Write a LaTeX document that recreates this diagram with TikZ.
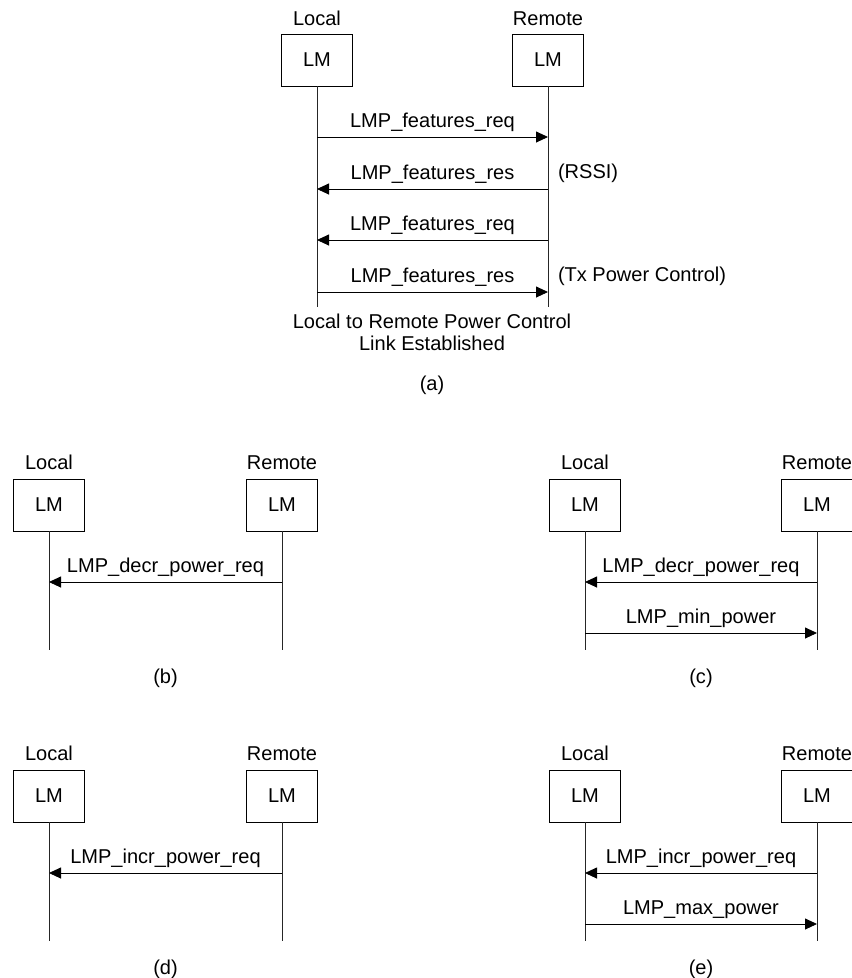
\documentclass[tikz,border=0pt]{standalone}
\usepackage{fontspec}
\setmainfont{Liberation Sans}
\usetikzlibrary{positioning, calc, arrows.meta}

\begin{document}
\begin{tikzpicture}[
  every node/.append style={inner sep=0pt, outer sep=0pt, font=\fontsize{11.4}{12.5}\selectfont},
  lm/.style={draw, line width=0.55pt, minimum width=1.42cm, minimum height=1.04cm, align=center},
  who/.style={anchor=base},
  life/.style={line width=0.5pt, black!85},
  msg/.style={-{Triangle[length=0.24cm, width=0.22cm]}, line width=0.5pt},
  lbl/.style={midway, anchor=base, yshift=0.19cm},
  note/.style={anchor=base west},
  captxt/.style={anchor=base},
]
\useasboundingbox (0,0) rectangle (17.02,-19.56);

%% ─── (a): features exchange, lifelines at x=6.34 / 10.96 ────────────────────
\node[who] (ta1) at (6.34,  -0.50) {Local};
\node[who] (ta2) at (10.96, -0.50) {Remote};
\node[lm]  (aL)  at (6.34,  -1.20) {LM};
\node[lm]  (aR)  at (10.96, -1.20) {LM};
\draw[life] (aL.south) -- ([yshift=-4.42cm]aL.south);
\draw[life] (aR.south) -- ([yshift=-4.42cm]aR.south);
\draw[msg] ([yshift=-1.02cm]aL.south) -- ([yshift=-1.02cm]aR.south) node[lbl] {LMP\_features\_req};
\draw[msg] ([yshift=-2.06cm]aR.south) -- ([yshift=-2.06cm]aL.south) node[lbl] {LMP\_features\_res};
\draw[msg] ([yshift=-3.08cm]aR.south) -- ([yshift=-3.08cm]aL.south) node[lbl] {LMP\_features\_req};
\draw[msg] ([yshift=-4.12cm]aL.south) -- ([yshift=-4.12cm]aR.south) node[lbl] {LMP\_features\_res};
\node[note] (rssi) at (11.16, -3.56) {(RSSI)};
\node[note] (txpc) at (11.16, -5.62) {(Tx Power Control)};
\node[captxt] (est1) at (8.64, -6.56) {Local to Remote Power Control};
\node[captxt] (est2) at (8.64, -7.00) {Link Established};
\node[captxt] (capa) at (8.64, -7.80) {(a)};

%% ─── (b): decrease request, lifelines at x=0.98 / 5.64 ──────────────────────
\node[who] (tb1) at (0.98, -9.38) {Local};
\node[who] (tb2) at (5.64, -9.38) {Remote};
\node[lm]  (bL)  at (0.98, -10.10) {LM};
\node[lm]  (bR)  at (5.64, -10.10) {LM};
\draw[life] (bL.south) -- ([yshift=-2.38cm]bL.south);
\draw[life] (bR.south) -- ([yshift=-2.38cm]bR.south);
\draw[msg] ([yshift=-1.02cm]bR.south) -- ([yshift=-1.02cm]bL.south) node[lbl] {LMP\_decr\_power\_req};
\node[captxt] (capb) at (3.31, -13.66) {(b)};

%% ─── (c): decrease request, min power reached ────────────────────────────────
\node[who] (tc1) at (11.70, -9.38) {Local};
\node[who] (tc2) at (16.34, -9.38) {Remote};
\node[lm]  (cL)  at (11.70, -10.10) {LM};
\node[lm]  (cR)  at (16.34, -10.10) {LM};
\draw[life] (cL.south) -- ([yshift=-2.38cm]cL.south);
\draw[life] (cR.south) -- ([yshift=-2.38cm]cR.south);
\draw[msg] ([yshift=-1.02cm]cR.south) -- ([yshift=-1.02cm]cL.south) node[lbl] {LMP\_decr\_power\_req};
\draw[msg] ([yshift=-2.04cm]cL.south) -- ([yshift=-2.04cm]cR.south) node[lbl] {LMP\_min\_power};
\node[captxt] (capc) at (14.02, -13.66) {(c)};

%% ─── (d): increase request ───────────────────────────────────────────────────
\node[who] (td1) at (0.98, -15.20) {Local};
\node[who] (td2) at (5.64, -15.20) {Remote};
\node[lm]  (dL)  at (0.98, -15.92) {LM};
\node[lm]  (dR)  at (5.64, -15.92) {LM};
\draw[life] (dL.south) -- ([yshift=-2.38cm]dL.south);
\draw[life] (dR.south) -- ([yshift=-2.38cm]dR.south);
\draw[msg] ([yshift=-1.02cm]dR.south) -- ([yshift=-1.02cm]dL.south) node[lbl] {LMP\_incr\_power\_req};
\node[captxt] (capd) at (3.31, -19.48) {(d)};

%% ─── (e): increase request, max power reached ────────────────────────────────
\node[who] (te1) at (11.70, -15.20) {Local};
\node[who] (te2) at (16.34, -15.20) {Remote};
\node[lm]  (eL)  at (11.70, -15.92) {LM};
\node[lm]  (eR)  at (16.34, -15.92) {LM};
\draw[life] (eL.south) -- ([yshift=-2.38cm]eL.south);
\draw[life] (eR.south) -- ([yshift=-2.38cm]eR.south);
\draw[msg] ([yshift=-1.02cm]eR.south) -- ([yshift=-1.02cm]eL.south) node[lbl] {LMP\_incr\_power\_req};
\draw[msg] ([yshift=-2.04cm]eL.south) -- ([yshift=-2.04cm]eR.south) node[lbl] {LMP\_max\_power};
\node[captxt] (cape) at (14.02, -19.48) {(e)};

\end{tikzpicture}
\end{document}
